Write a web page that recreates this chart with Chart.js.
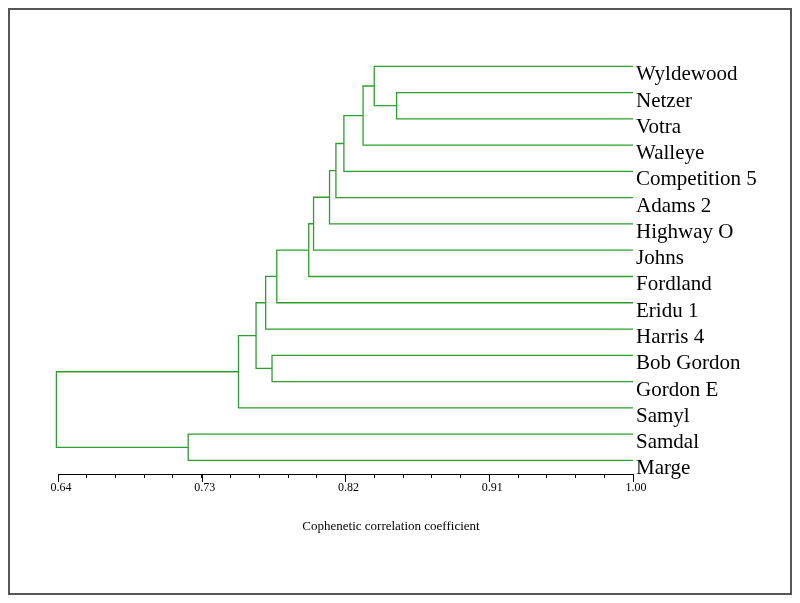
<!DOCTYPE html>
<html>
<head>
<meta charset="utf-8">
<title>Dendrogram</title>
<script src="https://cdn.jsdelivr.net/npm/chart.js@4.4.0/dist/chart.umd.min.js"></script>
<style>
    html, body { margin: 0; padding: 0; background: #fff; }
    canvas { display: block; }
</style>
</head>
<body>
<canvas id="dendro-chart" width="800" height="603"></canvas>
<script>
    "use strict";

    // Leaves, top to bottom
    var leaves = ["Wyldewood", "Netzer", "Votra", "Walleye", "Competition 5", "Adams 2",
        "Highway O", "Johns", "Fordland", "Eridu 1", "Harris 4", "Bob Gordon",
        "Gordon E", "Samyl", "Samdal", "Marge"];

    // Merges: merge k makes node "n" + k
    var mergeLeft   = ["Netzer", "Wyldewood", "n1", "n2", "n3", "n4", "n5", "n6", "n7", "n8", "Bob Gordon", "n9", "n11", "Samdal", "n12"];
    var mergeRight  = ["Votra", "n0", "Walleye", "Competition 5", "Adams 2", "Highway O", "Johns", "Fordland", "Eridu 1", "Harris 4", "Gordon E", "n10", "Samyl", "Marge", "n13"];
    var mergeHeight = [0.852, 0.838, 0.831, 0.819, 0.814, 0.810, 0.800, 0.797, 0.777, 0.770, 0.774, 0.764, 0.753, 0.7215, 0.639];

    // Axis ticks
    var axisMin = 0.64;
    var axisMax = 1.00;
    var minorStep = 0.018;
    var majorTicks = [0.64, 0.73, 0.82, 0.91, 1.00];
    var axisTitle = "Cophenetic correlation coefficient";

    var green = "rgb(46, 158, 46)";
    var serif = "'Liberation Serif', 'Times New Roman', serif";

    // Positions of leaves and nodes
    var pos = {};
    leaves.forEach(function (name, i) {
        pos[name] = { x: axisMax, y: i };
    });

    var datasets = [];
    mergeHeight.forEach(function (h, k) {
        var a = pos[mergeLeft[k]];
        var b = pos[mergeRight[k]];
        datasets.push({
            data: [
                { x: a.x, y: a.y },
                { x: h, y: a.y },
                { x: h, y: b.y },
                { x: b.x, y: b.y }
            ],
            showLine: true,
            clip: false,
            borderColor: green,
            borderWidth: 1.3,
            pointRadius: 0,
            fill: false,
            tension: 0
        });
        pos["n" + k] = { x: h, y: (a.y + b.y) / 2 };
    });

    function isMajor(v) {
        return majorTicks.some(function (m) { return Math.abs(m - v) < 1e-6; });
    }

    // Leaf labels, major tick marks, axis title, frame
    var decor = {
        id: "decor",
        afterDraw: function (chart) {
            var ctx = chart.ctx;
            var xs = chart.scales.x;
            var ys = chart.scales.y;
            var area = chart.chartArea;
            ctx.save();

            ctx.fillStyle = "#000";
            ctx.font = "21px " + serif;
            ctx.textAlign = "left";
            ctx.textBaseline = "alphabetic";
            leaves.forEach(function (name, i) {
                ctx.fillText(name, area.right + 3, ys.getPixelForValue(i) + 14);
            });

            ctx.strokeStyle = "#000";
            ctx.lineWidth = 1;
            majorTicks.forEach(function (m) {
                var px = Math.round(xs.getPixelForValue(m)) + 0.5;
                ctx.beginPath();
                ctx.moveTo(px, area.bottom);
                ctx.lineTo(px, area.bottom + 8);
                ctx.stroke();
            });

            ctx.font = "13px " + serif;
            ctx.textAlign = "center";
            ctx.textBaseline = "middle";
            ctx.fillText(axisTitle, 391, 527);

            ctx.strokeStyle = "#555";
            ctx.lineWidth = 2;
            ctx.strokeRect(9, 9, 782, 585);
            ctx.restore();
        }
    };

    var ctx = document.getElementById("dendro-chart").getContext("2d");
    var dendroChart = new Chart(ctx, {
        type: "scatter",
        data: { datasets: datasets },
        options: {
            responsive: false,
            animation: false,
            layout: { padding: { left: 58, right: 167, top: 53, bottom: 0 } },
            plugins: {
                legend: { display: false },
                tooltip: { enabled: false }
            },
            scales: {
                x: {
                    type: "linear",
                    position: "bottom",
                    min: axisMin,
                    max: axisMax,
                    afterBuildTicks: function (scale) {
                        var t = [];
                        for (var k = 0; k <= Math.round((axisMax - axisMin) / minorStep); k++) {
                            t.push({ value: Math.round((axisMin + k * minorStep) * 1000) / 1000 });
                        }
                        scale.ticks = t;
                    },
                    afterFit: function (scale) {
                        scale.height = 129;
                    },
                    border: { display: true, color: "#000", width: 1 },
                    grid: { drawOnChartArea: false, drawTicks: true, tickLength: 4, color: "#000" },
                    ticks: {
                        autoSkip: false,
                        maxRotation: 0,
                        padding: 3,
                        labelOffset: 3,
                        color: "#000",
                        font: { family: serif, size: 12 },
                        callback: function (v) {
                            return isMajor(v) ? v.toFixed(2) : "";
                        }
                    }
                },
                y: {
                    type: "linear",
                    display: false,
                    reverse: true,
                    min: -0.506,
                    max: 15.517
                }
            }
        },
        plugins: [decor]
    });
</script>
</body>
</html>
